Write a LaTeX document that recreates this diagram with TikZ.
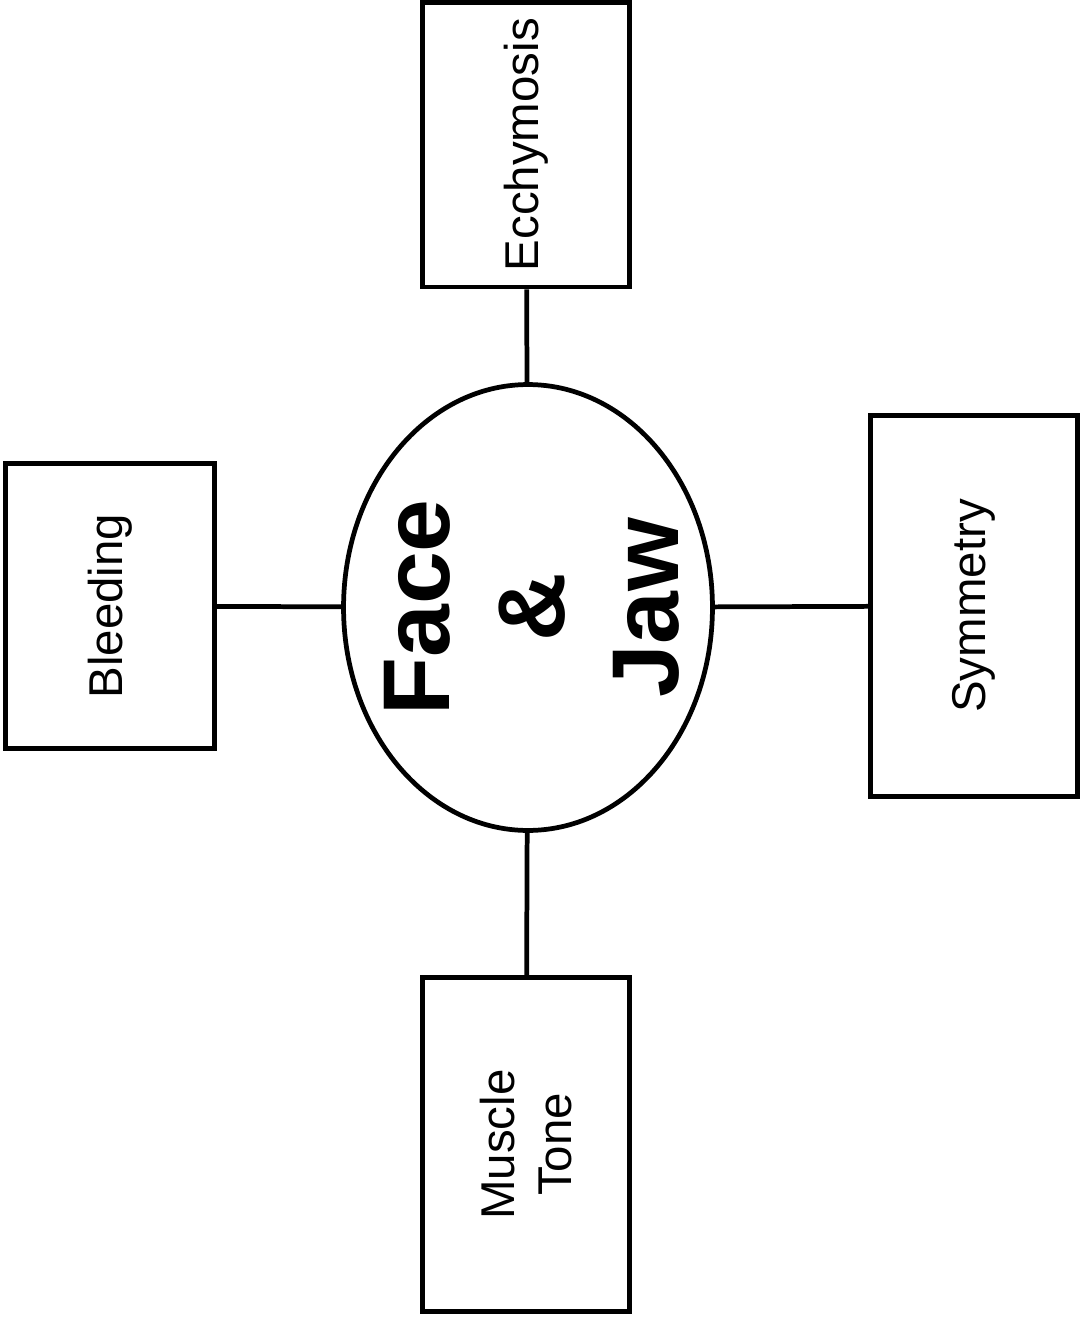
\documentclass[tikz,border=0pt]{standalone}
\usepackage{fontspec}
\setmainfont{Liberation Sans}
\usepackage{tikz}
\usetikzlibrary{positioning, shapes.geometric}

\begin{document}
\begin{tikzpicture}[x=0.02cm, y=-0.02cm,
            item/.style={
              rectangle, draw=black, line width=2.7pt, rotate=90,
              minimum height=4.14cm, inner sep=0pt, align=center,
              font=\fontsize{27}{32}\selectfont
            },
            hub/.style={
              ellipse, draw=black, line width=2.7pt, rotate=90,
              minimum width=8.92cm, minimum height=7.38cm, inner sep=0pt
            },
            hubtext/.style={
              rotate=90, align=center, inner sep=0pt,
              font=\fontsize{54}{65}\selectfont\bfseries
            },
            link/.style={draw=black, line width=2.7pt}
          ]
          \useasboundingbox (0,0) rectangle (1081,1322);
          % Nodo central
          \node[hub] (face) at (528, 607.5) {};
          \node[hubtext] (facetext) at ([xshift=0.08cm]face.center) {Face\\\&\\Jaw};
          % Cajas alrededor
          \node[item, minimum width=5.69cm] (ecchy) at (526, 144.75) {Ecchymosis};
          \node[item, minimum width=5.70cm, minimum height=4.18cm]
            (bleed) at (110, 606) {Bleeding};
          \node[item, minimum width=7.62cm, minimum height=4.15cm]
            (symm) at (974, 606) {Symmetry};
          \node[item, minimum width=6.68cm] (tone) at (526, 1144.5) {Muscle\\Tone};

          % Conectores
          \draw[link] (ecchy) -- (face);
          \draw[link] (bleed) -- (face);
          \draw[link] (face) -- (symm);
          \draw[link] (face) -- (tone);
        \end{tikzpicture}
\end{document}
